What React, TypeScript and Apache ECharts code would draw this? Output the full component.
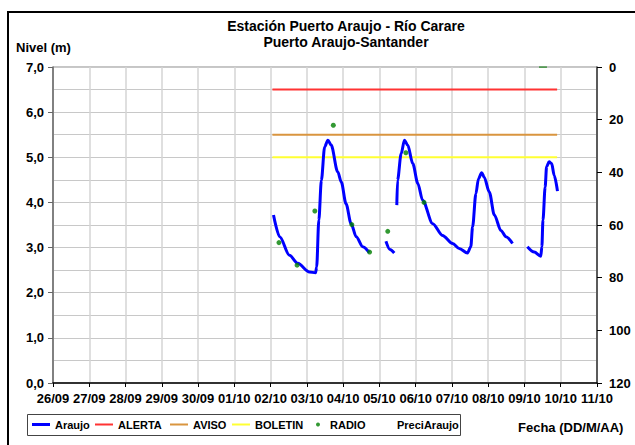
import { useEffect, useRef } from 'react';
import * as echarts from 'echarts';

// X axis: days counted from 26/09 00:00
const dateLabels = ['26/09', '27/09', '28/09', '29/09', '30/09', '01/10', '02/10', '03/10', '04/10', '05/10', '06/10', '07/10', '08/10', '09/10', '10/10', '11/10'];

// Araujo level (m) – separate segments (gaps in record)
const araujoSeg1: [number, number][] = [
  [6.08, 3.72], [6.25, 3.24], [6.52, 2.83], [6.75, 2.65], [7.07, 2.46], [7.24, 2.44], [7.27, 2.57],
  [7.33, 3.61], [7.40, 4.49], [7.49, 5.23], [7.58, 5.38], [7.67, 5.27], [7.85, 4.68], [7.95, 4.45],
  [8.08, 3.97], [8.22, 3.53], [8.36, 3.24], [8.54, 3.02], [8.72, 2.89],
];
const araujoSeg2: [number, number][] = [[9.18, 3.14], [9.29, 2.96], [9.41, 2.88]];
const araujoSeg3: [number, number][] = [
  [9.48, 3.94], [9.50, 4.49], [9.60, 5.08], [9.69, 5.38], [9.78, 5.27], [9.92, 4.86], [10.06, 4.42],
  [10.19, 4.05], [10.47, 3.53], [10.74, 3.27], [11.02, 3.09], [11.2, 2.98], [11.43, 2.88], [11.52, 3.02],
  [11.57, 3.46], [11.66, 4.19], [11.73, 4.52], [11.82, 4.66], [11.89, 4.56], [12.03, 4.23], [12.17, 3.72],
  [12.35, 3.38], [12.49, 3.24], [12.67, 3.09],
];
const araujoSeg4: [number, number][] = [
  [13.08, 3.02], [13.27, 2.90], [13.45, 2.81], [13.48, 3.02], [13.51, 3.61], [13.57, 4.34], [13.61, 4.79],
  [13.68, 4.90], [13.75, 4.86], [13.82, 4.60], [13.91, 4.25],
];

// Threshold levels (m)
const thresholdStart = 6.05;
const thresholdEnd = 13.9;
const alertaLevel = 6.5;
const avisoLevel = 5.5;
const boletinLevel = 5.0;

// RADIO readings (m)
const radio: [number, number][] = [
  [6.23, 3.11], [6.73, 2.61], [7.22, 3.81], [7.73, 5.71], [8.24, 3.51], [8.73, 2.90], [9.23, 3.36], [9.73, 5.10], [10.23, 4.0],
];

// PreciAraujo (mm, right axis)
const preciAraujo: [number, number][] = [[13.4, 0], [13.62, 0]];

const FONT = '"Liberation Sans", Arial, sans-serif';

export default function App() {
  const ref = useRef<HTMLDivElement>(null);
  useEffect(() => {
    if (!ref.current) return;
    const chart = echarts.init(ref.current, undefined, { renderer: 'svg' });
    const legendText = { color: '#000', fontFamily: FONT, fontWeight: 'bold' as const, fontSize: 11 };
    const mkLegend = (name: string, left: number, h: number, extra: any = {}) => ({
      left, top: 419, padding: 0, itemWidth: 18, itemHeight: h, selectedMode: false, icon: 'rect',
      data: [name], textStyle: legendText, ...extra,
    });
    const lineBase = { type: 'line', symbol: 'none', animation: false, xAxisIndex: 0 };
    chart.setOption({
      animation: false,
      backgroundColor: '#fff',
      textStyle: { fontFamily: FONT },
      title: {
        text: 'Estación Puerto Araujo - Río Carare\nPuerto Araujo-Santander',
        left: 346, top: 18, padding: 0, textAlign: 'center',
        textStyle: { fontFamily: FONT, fontWeight: 'bold', fontSize: 14, lineHeight: 16, color: '#000' },
      },
      grid: { left: 53, right: 38, top: 67, bottom: 62, show: true, borderColor: '#8c8c8c', borderWidth: 1 },
      legend: [
        mkLegend('Araujo', 32, 3),
        mkLegend('ALERTA', 95, 2),
        mkLegend('AVISO', 170, 2),
        mkLegend('BOLETIN', 232, 2),
        mkLegend('RADIO', 316, 4, { itemWidth: 4, icon: 'circle', textStyle: { ...legendText, padding: [0, 0, 0, 5] } }),
        mkLegend('PreciAraujo', 374, 2, { data: [{ name: 'PreciAraujo', icon: 'rect', itemStyle: { opacity: 0 } }] }),
      ],
      xAxis: {
        type: 'value', min: 0, max: 15, interval: 1,
        axisLine: { show: true, lineStyle: { color: '#000', width: 1.5 } },
        axisTick: { show: true, inside: false, length: 4, lineStyle: { color: '#000' } },
        axisLabel: {
          margin: 9, color: '#000', fontFamily: FONT, fontWeight: 'bold', fontSize: 13,
          formatter: (v: number) => dateLabels[Math.round(v)] ?? '',
        },
        splitLine: { show: true, lineStyle: { color: '#d4d4d4', width: 1.5 } },
      },
      yAxis: [
        {
          type: 'value', min: 0, max: 7, interval: 1, position: 'left',
          axisLine: { show: true, lineStyle: { color: '#666', width: 1.5 } },
          axisTick: { show: true, inside: false, length: 5, lineStyle: { color: '#666' } },
          axisLabel: {
            margin: 9, color: '#000', fontFamily: FONT, fontWeight: 'bold', fontSize: 13,
            formatter: (v: number) => v.toFixed(1).replace('.', ','),
          },
          splitLine: { show: true, lineStyle: { color: '#c8c8c8', width: 1 } },
          minorTick: { show: false, splitNumber: 2 },
          minorSplitLine: { show: true, lineStyle: { color: '#c8c8c8', width: 1 } },
        },
        {
          type: 'value', min: 0, max: 120, interval: 20, position: 'right', inverse: true,
          axisLine: { show: true, lineStyle: { color: '#333', width: 1.5 } },
          axisTick: { show: true, inside: false, length: 5, lineStyle: { color: '#000' } },
          axisLabel: { margin: 12, color: '#000', fontFamily: FONT, fontWeight: 'bold', fontSize: 13 },
          splitLine: { show: false },
        },
      ],
      series: [
        { ...lineBase, name: 'PreciAraujo', yAxisIndex: 1, data: preciAraujo, lineStyle: { color: '#2e8b2e', width: 1.5 }, itemStyle: { color: '#2e8b2e' } },
        { ...lineBase, name: 'ALERTA', yAxisIndex: 0, data: [[thresholdStart, alertaLevel], [thresholdEnd, alertaLevel]], lineStyle: { color: '#ff3333', width: 2 }, itemStyle: { color: '#ff3333' } },
        { ...lineBase, name: 'AVISO', yAxisIndex: 0, data: [[thresholdStart, avisoLevel], [thresholdEnd, avisoLevel]], lineStyle: { color: '#d9953f', width: 2 }, itemStyle: { color: '#d9953f' } },
        { ...lineBase, name: 'BOLETIN', yAxisIndex: 0, data: [[thresholdStart, boletinLevel], [thresholdEnd, boletinLevel]], lineStyle: { color: '#ffff33', width: 2 }, itemStyle: { color: '#ffff33' } },
        ...[araujoSeg1, araujoSeg2, araujoSeg3, araujoSeg4].map((seg) => ({
          ...lineBase, name: 'Araujo', yAxisIndex: 0, data: seg, smooth: 0.3, smoothMonotone: 'x',
          lineStyle: { color: '#0000ff', width: 3 }, itemStyle: { color: '#0000ff' }, z: 3,
        })),
        { type: 'scatter', name: 'RADIO', yAxisIndex: 0, data: radio, symbol: 'circle', symbolSize: 5, itemStyle: { color: '#008000' }, z: 4 },
      ],
      graphic: [
        { type: 'rect', shape: { x: 8, y: 12, width: 640, height: 445 }, style: { fill: 'none', stroke: '#000', lineWidth: 2 }, silent: true },
        { type: 'rect', shape: { x: 27.5, y: 414.5, width: 433, height: 21 }, style: { fill: 'none', stroke: '#444', lineWidth: 1 }, silent: true },
        { type: 'text', x: 16, y: 47, style: { text: 'Nivel (m)', fontFamily: FONT, fontWeight: 'bold', fontSize: 13, fill: '#000', verticalAlign: 'middle' } },
        { type: 'text', x: 518, y: 427, style: { text: 'Fecha (DD/M/AA)', fontFamily: FONT, fontWeight: 'bold', fontSize: 13, fill: '#000', verticalAlign: 'middle' } },
      ],
    });
    return () => chart.dispose();
  }, []);
  return <div ref={ref} style={{ position: 'fixed', left: 0, top: 0, width: 635, height: 445 }} />;
}
